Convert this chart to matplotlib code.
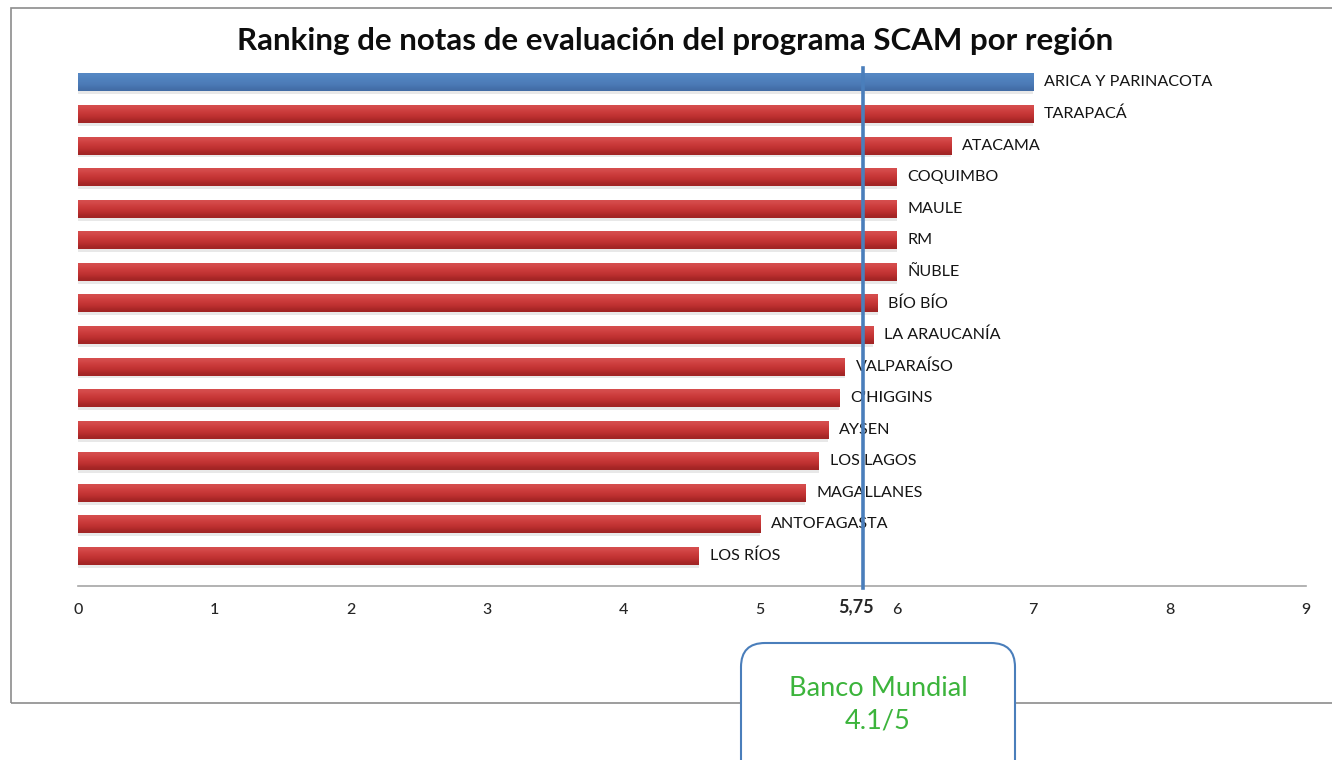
import numpy as np
import matplotlib
matplotlib.use("Agg")
import matplotlib.pyplot as plt
from matplotlib.patches import FancyBboxPatch, Rectangle
from matplotlib.transforms import IdentityTransform

plt.rcParams['font.family'] = ['Lato', 'DejaVu Sans']

regions = ["ARICA Y PARINACOTA", "TARAPACÁ", "ATACAMA", "COQUIMBO", "MAULE", "RM",
           "ÑUBLE", "BÍO BÍO", "LA ARAUCANÍA", "VALPARAÍSO", "O'HIGGINS", "AYSEN",
           "LOS LAGOS", "MAGALLANES", "ANTOFAGASTA", "LOS RÍOS"]
scores = [7.0, 7.0, 6.4, 6.0, 6.0, 6.0, 6.0, 5.86, 5.83, 5.62, 5.58, 5.5, 5.43, 5.33, 5.0, 4.55]
highlight = "ARICA Y PARINACOTA"
reference = 5.75
xticks = [0, 1, 2, 3, 4, 5, 6, 7, 8, 9]
title = "Ranking de notas de evaluación del programa SCAM por región"
box_text = "Banco Mundial\n4.1/5"

W, H = 1332, 760
fig = plt.figure(figsize=(W / 100, H / 100), dpi=100)
fig.patch.set_facecolor("white")

# outer chart frame
fig.add_artist(Rectangle((11, H - 703), 1400, 695, transform=IdentityTransform(),
                         fill=False, edgecolor="#8c8c8c", linewidth=1.2))

ax = fig.add_axes([78 / W, 1 - 586 / H, 1228 / W, (586 - 65) / H])
ax.set_facecolor("none")

n = len(regions)
ypos = np.arange(n)[::-1]
bar_h = 0.57

red_grad = np.array([[214, 78, 78], [206, 62, 62], [198, 54, 54], [186, 46, 46], [160, 36, 36]]) / 255
blue_grad = np.array([[86, 136, 196], [80, 129, 189], [78, 126, 186], [74, 120, 180], [66, 108, 165]]) / 255

for name, val, y in zip(regions, scores, ypos):
    grad = blue_grad if name == highlight else red_grad
    # shadow
    ax.barh(y - 0.09, val, height=bar_h, color="#d9d9d9", alpha=0.6, linewidth=0, zorder=1)
    bar = ax.barh(y, val, height=bar_h, color=grad[2], linewidth=0, zorder=2)[0]
    img = grad[::-1][:, None, :]
    im = ax.imshow(img, extent=(0, val, y - bar_h / 2, y + bar_h / 2), aspect="auto",
                   interpolation="bicubic", zorder=3, origin="lower")
    im.set_clip_path(bar)
    ax.text(val + 0.08, y, name, va="center", ha="left", fontsize=11.6, color="#141414", zorder=4)

ax.set_xlim(0, 9)
ax.set_ylim(-0.95, 15.55)

ax.plot([reference, reference], [-1.02, 15.45], color="#4a7ebb", linewidth=2.6,
        zorder=5, clip_on=False)

for s in ["top", "right", "left"]:
    ax.spines[s].set_visible(False)
ax.spines["bottom"].set_color("#a6a6a6")
ax.spines["bottom"].set_linewidth(1.2)
ax.set_yticks([])
ax.set_xticks(xticks)
ax.set_xticklabels([str(t) for t in xticks])
ax.tick_params(axis="x", length=0, pad=12, labelsize=11.5, labelcolor="#262626")
for lbl in ax.get_xticklabels():
    lbl.set_fontweight("medium")
ax.text(reference - 0.05, -1.62, "5,75", ha="center", va="center", fontsize=13,
        fontweight="bold", color="#262626")

fig.text(675 / W, 1 - 41 / H, title, ha="center", va="center", fontsize=22.5,
         fontweight="bold", color="#0d0d0d")

box = FancyBboxPatch((741, -30), 274, H - 643 + 30, transform=IdentityTransform(),
                     boxstyle="round,pad=0,rounding_size=24", facecolor="white",
                     edgecolor="#4a7ebb", linewidth=1.5)
fig.add_artist(box)
fig.text(878 / W, 1 - 688 / H, "Banco Mundial", ha="center", va="center", fontsize=19.5,
         color="#3cb43c")
fig.text(878 / W, 1 - 721 / H, "4.1/5", ha="center", va="center", fontsize=19.5,
         color="#3cb43c")

fig.savefig("out.png", dpi=100)
